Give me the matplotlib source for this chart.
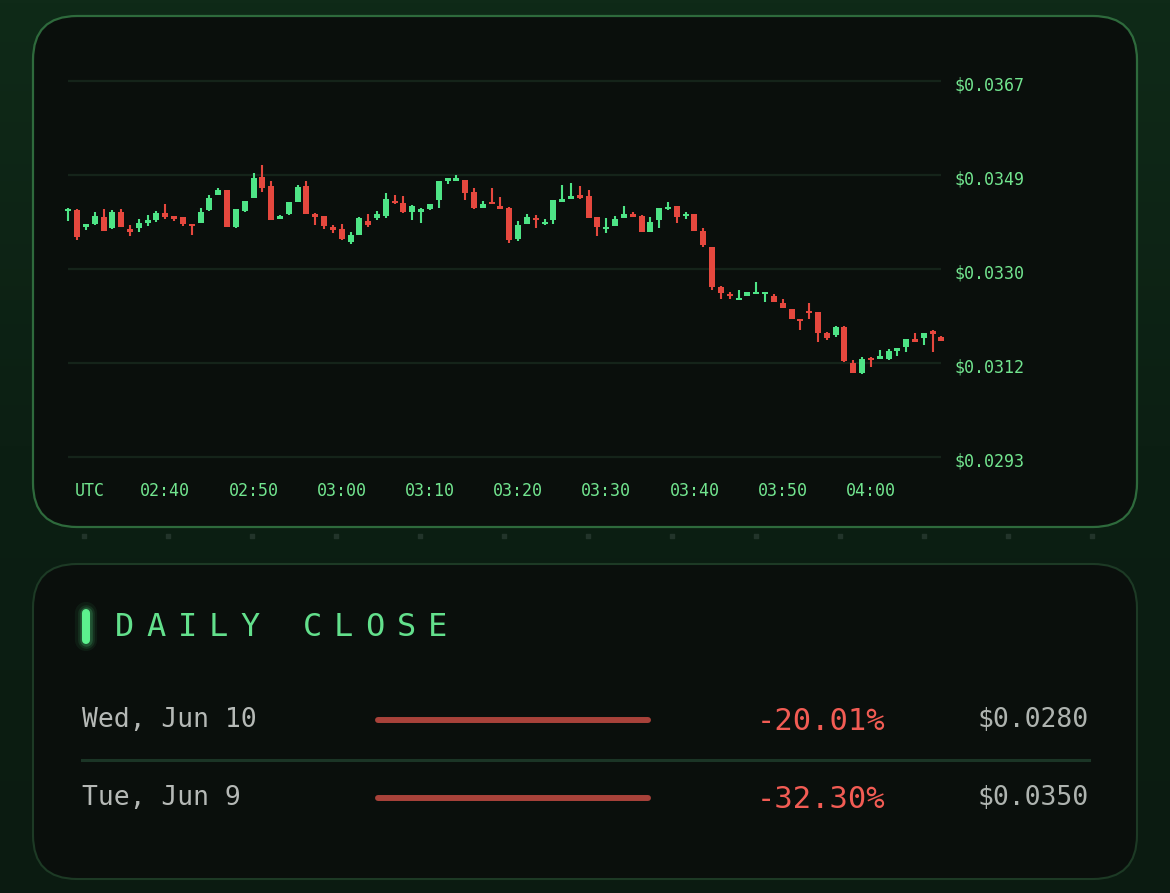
import numpy as np
import pandas as pd
import matplotlib
matplotlib.use("Agg")
import matplotlib.pyplot as plt
import matplotlib.transforms as mtransforms
from matplotlib.patches import FancyBboxPatch
from matplotlib.colors import LinearSegmentedColormap

# 1-minute candles, 02:29 -> 04:08 UTC
opens = [0.03415, 0.03416, 0.03383, 0.03388, 0.03402, 0.03380, 0.03413, 0.03379, 0.03381, 0.03390,
         0.03396, 0.03411, 0.03404, 0.03402, 0.03389, 0.03391, 0.03416, 0.03446, 0.03455, 0.03382,
         0.03414, 0.03440, 0.03482, 0.03464, 0.03399, 0.03408, 0.03432, 0.03463, 0.03408, 0.03404,
         0.03383, 0.03379, 0.03353, 0.03367, 0.03394, 0.03400, 0.03405, 0.03434, 0.03429, 0.03413,
         0.03413, 0.03418, 0.03436, 0.03474, 0.03473, 0.03475, 0.03452, 0.03421, 0.03431, 0.03424,
         0.03421, 0.03360, 0.03389, 0.03401, 0.03388, 0.03396, 0.03432, 0.03438, 0.03446, 0.03444,
         0.03402, 0.03378, 0.03385, 0.03401, 0.03408, 0.03405, 0.03373, 0.03396, 0.03418, 0.03423,
         0.03404, 0.03408, 0.03375, 0.03343, 0.03265, 0.03250, 0.03239, 0.03247, 0.03250, 0.03251,
         0.03246, 0.03234, 0.03221, 0.03202, 0.03218, 0.03215, 0.03175, 0.03170, 0.03185, 0.03114,
         0.03095, 0.03124, 0.03122, 0.03122, 0.03139, 0.03146, 0.03162, 0.03164, 0.03177, 0.03167]
highs = [0.03420, 0.03418, 0.03389, 0.03412, 0.03418, 0.03416, 0.03418, 0.03386, 0.03398, 0.03406,
         0.03414, 0.03428, 0.03405, 0.03403, 0.03389, 0.03420, 0.03446, 0.03459, 0.03456, 0.03419,
         0.03434, 0.03488, 0.03505, 0.03474, 0.03406, 0.03432, 0.03466, 0.03474, 0.03411, 0.03405,
         0.03387, 0.03389, 0.03372, 0.03403, 0.03408, 0.03415, 0.03449, 0.03446, 0.03444, 0.03425,
         0.03421, 0.03428, 0.03474, 0.03479, 0.03485, 0.03476, 0.03459, 0.03434, 0.03459, 0.03441,
         0.03422, 0.03395, 0.03408, 0.03406, 0.03398, 0.03436, 0.03465, 0.03469, 0.03463, 0.03456,
         0.03402, 0.03401, 0.03404, 0.03424, 0.03413, 0.03406, 0.03403, 0.03420, 0.03431, 0.03424,
         0.03413, 0.03409, 0.03380, 0.03344, 0.03266, 0.03254, 0.03259, 0.03255, 0.03274, 0.03255,
         0.03250, 0.03240, 0.03222, 0.03202, 0.03233, 0.03216, 0.03176, 0.03188, 0.03188, 0.03120,
         0.03127, 0.03126, 0.03141, 0.03143, 0.03144, 0.03162, 0.03174, 0.03175, 0.03180, 0.03168]
lows = [0.03394, 0.03358, 0.03377, 0.03387, 0.03374, 0.03379, 0.03382, 0.03365, 0.03373, 0.03385,
        0.03393, 0.03399, 0.03394, 0.03385, 0.03366, 0.03390, 0.03415, 0.03445, 0.03382, 0.03381,
        0.03413, 0.03440, 0.03451, 0.03396, 0.03399, 0.03407, 0.03432, 0.03409, 0.03387, 0.03378,
        0.03371, 0.03358, 0.03349, 0.03366, 0.03383, 0.03396, 0.03401, 0.03428, 0.03411, 0.03396,
        0.03390, 0.03417, 0.03421, 0.03467, 0.03473, 0.03436, 0.03419, 0.03420, 0.03427, 0.03418,
        0.03352, 0.03356, 0.03388, 0.03380, 0.03387, 0.03389, 0.03432, 0.03438, 0.03438, 0.03400,
        0.03364, 0.03371, 0.03384, 0.03400, 0.03402, 0.03373, 0.03372, 0.03381, 0.03417, 0.03390,
        0.03398, 0.03375, 0.03344, 0.03259, 0.03241, 0.03240, 0.03239, 0.03246, 0.03250, 0.03236,
        0.03235, 0.03223, 0.03201, 0.03180, 0.03202, 0.03157, 0.03160, 0.03167, 0.03117, 0.03095,
        0.03094, 0.03108, 0.03122, 0.03121, 0.03129, 0.03137, 0.03156, 0.03150, 0.03137, 0.03158]
closes = [0.03419, 0.03362, 0.03388, 0.03405, 0.03375, 0.03412, 0.03383, 0.03373, 0.03390, 0.03396,
          0.03410, 0.03402, 0.03398, 0.03388, 0.03385, 0.03413, 0.03440, 0.03455, 0.03383, 0.03418,
          0.03434, 0.03479, 0.03460, 0.03397, 0.03404, 0.03431, 0.03462, 0.03409, 0.03402, 0.03385,
          0.03376, 0.03359, 0.03366, 0.03400, 0.03387, 0.03408, 0.03437, 0.03429, 0.03412, 0.03424,
          0.03418, 0.03428, 0.03473, 0.03479, 0.03479, 0.03449, 0.03420, 0.03428, 0.03427, 0.03419,
          0.03357, 0.03387, 0.03403, 0.03396, 0.03393, 0.03436, 0.03438, 0.03444, 0.03440, 0.03401,
          0.03382, 0.03383, 0.03398, 0.03408, 0.03403, 0.03373, 0.03392, 0.03420, 0.03421, 0.03403,
          0.03408, 0.03375, 0.03347, 0.03265, 0.03252, 0.03246, 0.03242, 0.03254, 0.03253, 0.03254,
          0.03236, 0.03224, 0.03202, 0.03198, 0.03213, 0.03175, 0.03165, 0.03185, 0.03118, 0.03096,
          0.03122, 0.03120, 0.03129, 0.03139, 0.03144, 0.03162, 0.03157, 0.03175, 0.03172, 0.03159]

time_labels = ["02:40", "02:50", "03:00", "03:10", "03:20", "03:30", "03:40", "03:50", "04:00"]
price_ticks = [0.0293, 0.03115, 0.0330, 0.03485, 0.0367]
price_labels = ["$0.0293", "$0.0312", "$0.0330", "$0.0349", "$0.0367"]

daily_dates = ["Wed, Jun 10", "Tue, Jun 9"]
daily_pct = [-20.01, -32.30]
daily_close = [0.0280, 0.0350]

GREEN = "#4ee486"
RED = "#e5483e"
AXIS_GREEN = "#72e58f"
MONO = "DejaVu Sans Mono"

W, H = 1170, 893
fig = plt.figure(figsize=(W / 100, H / 100), dpi=100)
fig.patch.set_facecolor("#0b1b11")

# background layer in pixel coords
bg = fig.add_axes([0, 0, 1, 1])
bg.set_xlim(0, W)
bg.set_ylim(H, 0)
bg.axis("off")
cmap = LinearSegmentedColormap.from_list("bgg", ["#0f2a18", "#0c1f13", "#0b1b11"])
grad = np.linspace(0, 1, 256).reshape(-1, 1)
bg.imshow(grad, cmap=cmap, extent=[0, W, H, 0], aspect="auto", zorder=0)

top_panel = FancyBboxPatch((33, 16), 1104, 511, boxstyle="round,pad=0,rounding_size=44",
                           fc="#0a0f0c", ec="#2e6a3c", lw=1.6, zorder=1)
bot_panel = FancyBboxPatch((33, 564), 1104, 315, boxstyle="round,pad=0,rounding_size=44",
                           fc="#0a0f0c", ec="#1d3a25", lw=1.5, zorder=1)
bg.add_patch(top_panel)
bg.add_patch(bot_panel)

# little dots between the panels
dot_x = np.arange(84, 1100, 84)
bg.scatter(dot_x, np.full(len(dot_x), 536), marker="s", s=6, color="#22342a", zorder=2)

# ---- candlestick chart ----
ax = fig.add_axes([60 / W, 1 - 470 / H, 890 / W, 410 / H])
ax.axis("off")
ax.set_xlim(-0.94, 99.97)
ax.set_ylim(0.029044, 0.037113)

o = np.array(opens)
h = np.array(highs)
l = np.array(lows)
c = np.array(closes)
x = np.arange(len(o))
times = list(pd.date_range("2026-06-10 02:29", periods=len(o), freq="min").strftime("%H:%M"))

ax.hlines(price_ticks, 0, len(o) - 1, colors="#15241a", lw=1.6, zorder=0)

col = np.where(c >= o, GREEN, RED)
ax.vlines(x, l, h, colors=col, lw=1.5, zorder=2)
ax.bar(x, np.maximum(np.abs(c - o), 0.00004), bottom=np.minimum(o, c), width=0.68,
       color=col, zorder=3)

ytrans = mtransforms.offset_copy(ax.get_yaxis_transform(), fig=fig, x=4, y=-5, units="dots")
for v, lab in zip(price_ticks, price_labels):
    ax.text(1.0, v, lab, transform=ytrans, ha="left", va="center",
            color=AXIS_GREEN, fontsize=12, family=MONO)

xtrans = mtransforms.offset_copy(ax.get_xaxis_transform(), fig=fig, y=-21, units="dots")
for lab in time_labels:
    ax.text(times.index(lab), 0, lab, transform=xtrans, ha="center", va="center",
            color=AXIS_GREEN, fontsize=12, family=MONO)
bg.text(75, 491, "UTC", ha="left", va="center", color=AXIS_GREEN, fontsize=12, family=MONO, zorder=5)

# ---- daily close panel ----
for lw, a in [(16, 0.06), (12, 0.1), (9, 0.18)]:
    bg.plot([86, 86], [613, 640], lw=lw, color="#5cf08e", alpha=a, solid_capstyle="round", zorder=3)
bg.plot([86, 86], [613, 640], lw=5.8, color="#5cf08e", solid_capstyle="round", zorder=4)

for k, ch in enumerate("DAILY CLOSE"):
    bg.text(115 + k * 31.3, 628, ch, ha="left", va="center", color="#63e08c",
            fontsize=23, family=MONO, zorder=5)

row_y = [720, 798]
for yy, d, p, cl in zip(row_y, daily_dates, daily_pct, daily_close):
    bg.text(82, yy, d, ha="left", va="center", color="#b5b9b6", fontsize=19, family=MONO, zorder=5)
    frac = min(abs(p) / 20.0, 1.0)
    bg.plot([378, 378 + frac * 270], [yy, yy], lw=4.3, color="#a8423a",
            solid_capstyle="round", zorder=4)
    bg.text(885, yy + 1, f"{p:.2f}%", ha="right", va="center", color="#f25c54",
            fontsize=22, family=MONO, zorder=5)
    bg.text(1089, yy, f"${cl:.4f}", ha="right", va="center", color="#aeb3af",
            fontsize=19, family=MONO, zorder=5)

bg.plot([82, 1089], [760, 760], color="#1b3526", lw=2.2, zorder=4)

fig.savefig("out.png", dpi=100, facecolor=fig.get_facecolor())
